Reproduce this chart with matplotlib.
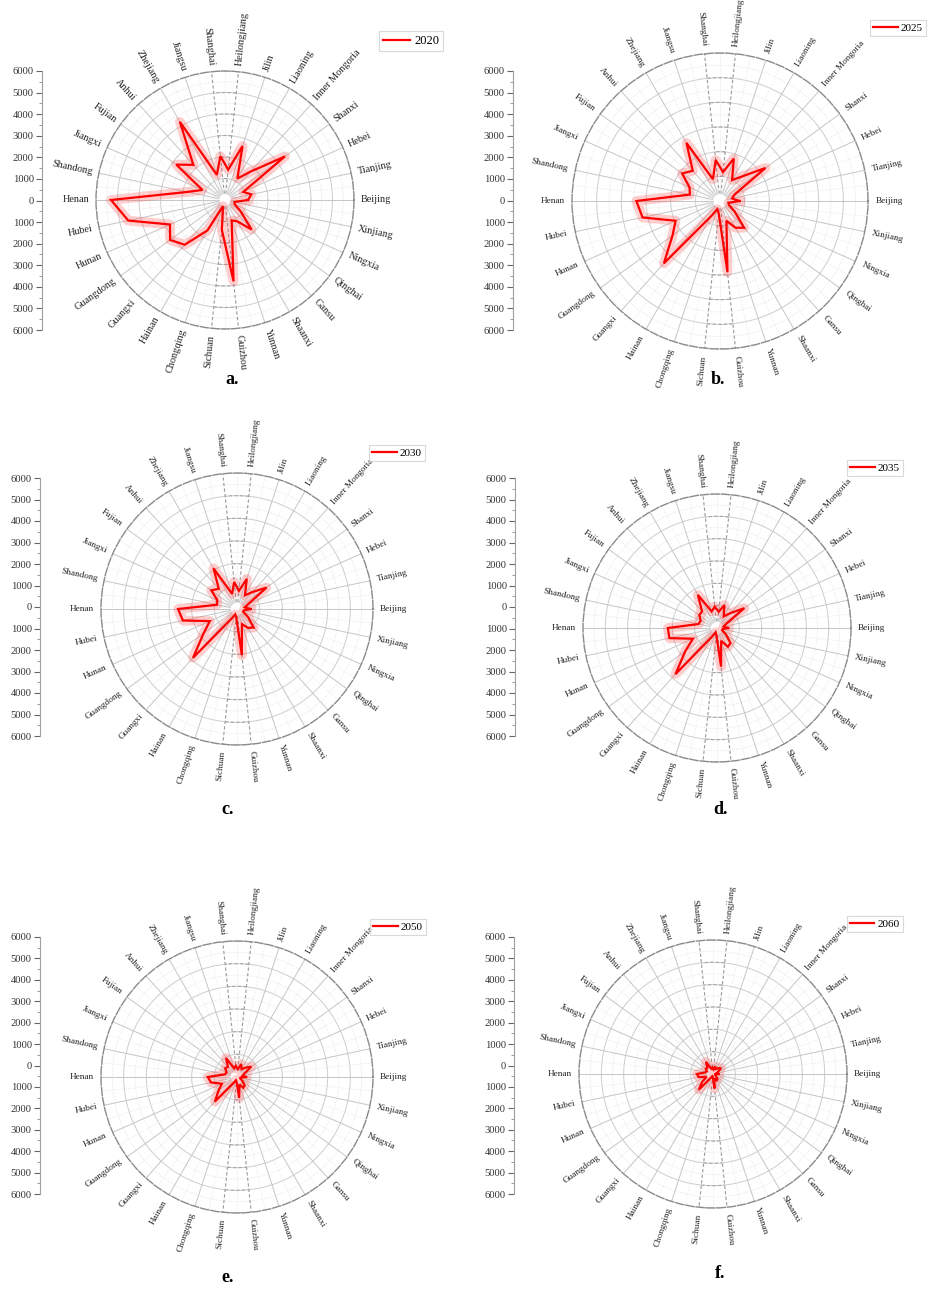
import numpy as np
import matplotlib
matplotlib.use('Agg')
import matplotlib.pyplot as plt

plt.rcParams['font.family'] = ['Liberation Serif', 'DejaVu Serif']

# provinces, counter-clockwise starting from the east (Beijing)
provinces = ['Beijing', 'Tianjing', 'Hebei', 'Shanxi', 'Inner Mongoria', 'Liaoning', 'Jilin',
             'Heilongjiang', 'Shanghai', 'Jiangsu', 'Zhejiang', 'Anhui', 'Fujian', 'Jiangxi',
             'Shandong', 'Henan', 'Hubei', 'Hunan', 'Guangdong', 'Guangxi', 'Hainan',
             'Chongqing', 'Sichuan', 'Guizhou', 'Yunnan', 'Shaanxi', 'Gansu', 'Qinghai',
             'Ningxia', 'Xinjiang']

# values
v2020 = [1070, 1250, 930, 3450, 1780, 1150, 2640, 1420, 2050, 1230, 4200, 2200, 2800, 1150,
         1800, 5300, 4600, 2800, 3160, 2800, 1630, 300, 1400, 3800, 1000, 1150, 1850, 900,
         500, 450]
v2025 = [800, 500, 650, 2280, 1340, 980, 1810, 1180, 1670, 930, 2720, 1650, 1900, 1350,
         1250, 3390, 3210, 1970, 2380, 3400, 700, 350, 500, 2900, 840, 1250, 1460, 740,
         400, 350]
v2030 = [600, 350, 550, 1610, 1000, 700, 1400, 800, 1200, 700, 2075, 1200, 1400, 950,
         900, 2600, 2440, 1310, 1820, 2900, 500, 250, 350, 2050, 700, 960, 1100, 600,
         300, 300]
v2035 = [500, 300, 450, 1510, 900, 600, 1080, 730, 960, 780, 1710, 1000, 980, 800,
         850, 2200, 2180, 1180, 1750, 2780, 450, 200, 300, 1740, 600, 970, 900, 500,
         250, 250]
v2050 = [400, 250, 350, 780, 550, 400, 600, 350, 500, 400, 965, 600, 650, 500,
         550, 1290, 1170, 730, 1000, 1460, 300, 150, 200, 930, 350, 550, 500, 300,
         150, 150]
v2060 = [250, 150, 250, 450, 350, 250, 350, 200, 300, 250, 630, 380, 400, 300,
         350, 720, 660, 320, 600, 950, 200, 100, 120, 650, 200, 330, 300, 180,
         100, 100]

years = ['2020', '2025', '2030', '2035', '2050', '2060']
series = [v2020, v2025, v2030, v2035, v2050, v2060]
panel_tags = ['a.', 'b.', 'c.', 'd.', 'e.', 'f.']
scale_ticks = list(range(-6000, 6001, 1000))

W, H = 941, 1296
fig = plt.figure(figsize=(W / 100, H / 100), dpi=100)
fig.patch.set_facecolor('white')

# layout in pixels: polar centre x, y, radius, left axis x, axis top, axis bottom,
# legend centre, panel tag position, label font size
layout = [
    (225, 200, 129, 42, 71, 330, (411, 41), (232, 379), 7.4),
    (720, 201, 148, 513, 71, 330, (898, 28), (718, 379), 6.7),
    (237, 609, 136, 40, 478, 736, (397, 453), (228, 809), 6.7),
    (717, 628, 134, 515, 478, 736, (875, 468), (720, 809), 6.7),
    (237, 1077, 136, 40, 937, 1194, (398, 927), (228, 1277), 6.7),
    (713, 1074, 134, 514, 937, 1194, (875, 924), (720, 1273), 6.7),
]

n = len(provinces)
angles = np.deg2rad(np.arange(n) * 360.0 / n)
full = np.linspace(0, 2 * np.pi, 361)

for vals, year, tag, (cx, cy, R, axx, atop, abot, leg, tagpos, fs) in zip(
        series, years, panel_tags, layout):
    ax = fig.add_axes([(cx - R) / W, 1 - (cy + R) / H, 2 * R / W, 2 * R / H],
                      projection='polar')
    ax.set_theta_zero_location('E')
    ax.set_ylim(0, 6000)
    ax.set_xticks([])
    ax.set_yticks([])
    ax.grid(False)
    ax.spines['polar'].set_color('#8a8a8a')
    ax.spines['polar'].set_linewidth(1.0)
    ax.spines['polar'].set_linestyle((0, (6, 1.5)))

    # rings
    for r in range(1000, 6000, 1000):
        ax.plot(full, np.full_like(full, r), color='#cdcdcd', lw=0.7, zorder=1)
    for r in range(500, 6000, 1000):
        ax.plot(full, np.full_like(full, r), color='#e2e2e2', lw=0.5, ls=(0, (1.5, 1.5)), zorder=1)
    # spokes
    for i, a in enumerate(angles):
        deg = i * 360.0 / n
        if round(deg) in (84, 96, 264, 276):
            ax.plot([a, a], [300, 6000], color='#999999', lw=0.8, ls=(0, (3, 2)), zorder=1)
        else:
            ax.plot([a, a], [300, 6000], color='#c6c6c6', lw=0.7, zorder=1)
        ax.plot([a + np.pi / n] * 2, [300, 6000], color='#e6e6e6', lw=0.5,
                ls=(0, (1.5, 1.5)), zorder=1)
    # dashed axis ticks between Shanghai and Heilongjiang / Sichuan and Guizhou
    for r in range(1000, 6001, 1000):
        arc1 = np.deg2rad(np.linspace(84, 96, 20))
        arc2 = np.deg2rad(np.linspace(264, 276, 20))
        ax.plot(arc1, np.full_like(arc1, r), color='#a5a5a5', lw=0.8, ls=(0, (3, 2)), zorder=1)
        ax.plot(arc2, np.full_like(arc2, r), color='#a5a5a5', lw=0.8, ls=(0, (3, 2)), zorder=1)

    # data polygon with soft halo
    th = np.append(angles, angles[0])
    rr = np.append(vals, vals[0])
    ax.plot(th, rr, color='#ff4040', lw=7, alpha=0.25, solid_joinstyle='round', zorder=3)
    line, = ax.plot(th, rr, color='#ff0000', lw=1.6, solid_joinstyle='miter', zorder=4,
                    label=year)

    # category labels
    for i, (a, name) in enumerate(zip(angles, provinces)):
        deg = i * 360.0 / n
        if deg <= 90 or deg > 270:
            rot = deg if deg <= 90 else deg - 360
            ha = 'left'
        else:
            rot = deg - 180
            ha = 'right'
        ax.text(a, 6000 * 1.05, name, rotation=rot, rotation_mode='anchor', ha=ha,
                va='center', fontsize=fs, color='#222222', clip_on=False)

    # left radial scale
    sax = fig.add_axes([axx / W, 1 - abot / H, 0.0005, (abot - atop) / H])
    sax.set_ylim(6000, -6000)
    sax.set_xticks([])
    sax.set_yticks(scale_ticks)
    sax.set_yticklabels([str(abs(t)) for t in scale_ticks], fontsize=7.6, color='#333333')
    sax.set_yticks(range(-5500, 6000, 1000), minor=True)
    sax.tick_params(axis='y', which='major', length=4, width=0.8, color='#666666', pad=2)
    sax.tick_params(axis='y', which='minor', length=2, width=0.6, color='#888888')
    for s in ['top', 'right', 'bottom']:
        sax.spines[s].set_visible(False)
    sax.spines['left'].set_color('#a0a0a0')
    sax.spines['left'].set_linewidth(0.8)
    sax.patch.set_alpha(0)

    # legend
    leg_obj = ax.legend(handles=[line], loc='center',
                        bbox_to_anchor=(leg[0] / W, 1 - leg[1] / H),
                        bbox_transform=fig.transFigure, fontsize=9 if year == '2020' else 8,
                        frameon=True, fancybox=False, handlelength=2.2, handletextpad=0.3,
                        borderpad=0.3, borderaxespad=0)
    leg_obj.get_frame().set_edgecolor('#d0d0d0')
    leg_obj.get_frame().set_linewidth(0.8)

    fig.text(tagpos[0] / W, 1 - tagpos[1] / H, tag, fontsize=13, fontweight='bold',
             ha='center', va='center', color='black')

fig.savefig('out.png', dpi=100, facecolor='white')
